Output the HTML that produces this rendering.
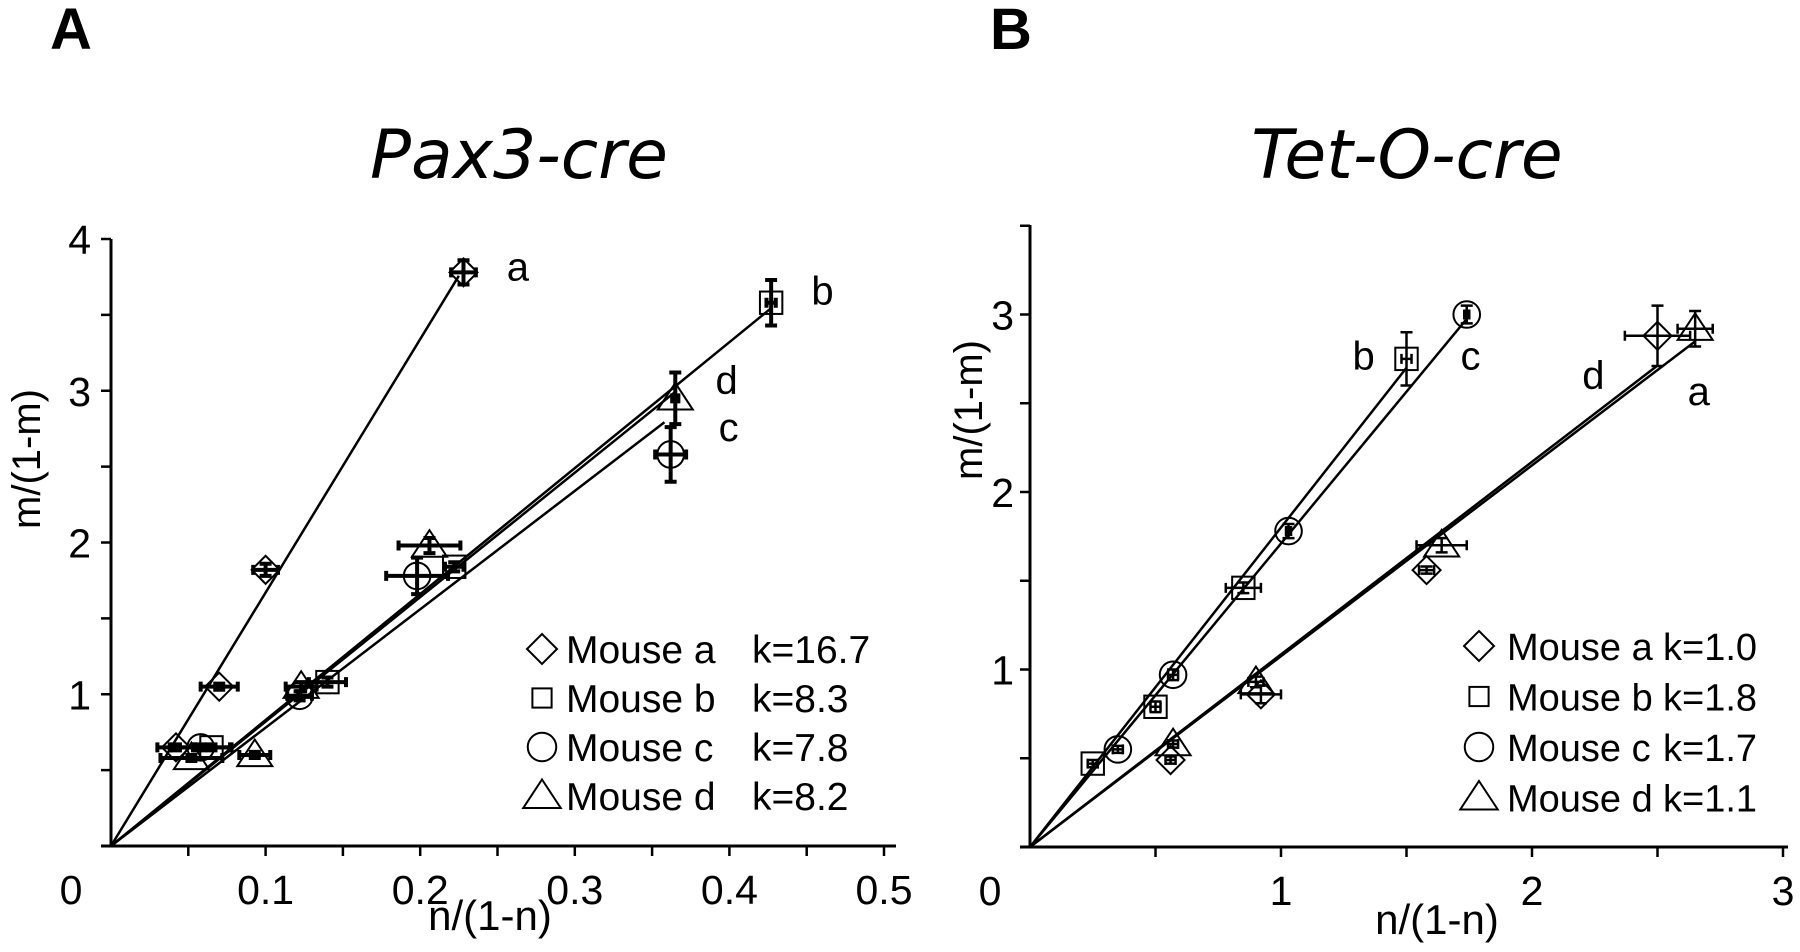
<!DOCTYPE html>
<html><head><meta charset="utf-8"><style>
html,body{margin:0;padding:0;background:#fff;}
svg{display:block;font-family:"Liberation Sans",sans-serif;}
</style></head><body>
<svg id="fig" width="1800" height="952" viewBox="0 0 1800 952">
<text x="50" y="49" font-size="58" font-weight="bold">A</text>
<text x="990" y="49" font-size="58" font-weight="bold">B</text>
<text x="519" y="178" font-size="68" font-style="italic" text-anchor="middle" font-family="DejaVu Sans, sans-serif">Pax3-cre</text>
<text x="1407" y="178" font-size="68" font-style="italic" text-anchor="middle" font-family="DejaVu Sans, sans-serif">Tet-O-cre</text>
<g id="pa"></g><g id="pb"></g>
</svg>
<script>
// Panel A data
const aSeries = ['a','b','c','d'];
const aK = [16.7, 8.3, 7.8, 8.2];
const aLineEnd = [0.225, 0.427, 0.358, 0.365];
const aX_a = [0.042, 0.07, 0.1, 0.228];
const aY_a = [0.65, 1.05, 1.82, 3.78];
const aX_b = [0.065, 0.14, 0.222, 0.427];
const aY_b = [0.65, 1.08, 1.84, 3.58];
const aX_c = [0.058, 0.122, 0.198, 0.362];
const aY_c = [0.65, 0.99, 1.78, 2.58];
const aX_d = [0.052, 0.093, 0.123, 0.206, 0.365];
const aY_d = [0.58, 0.6, 1.05, 1.98, 2.95];
const aXerr_a = [0.012, 0.012, 0.008, 0.008];
const aYerr_a = [0.02, 0.02, 0.04, 0.08];
const aXerr_b = [0.012, 0.012, 0.006, 0.003];
const aYerr_b = [0.02, 0.03, 0.03, 0.15];
const aXerr_c = [0.02, 0.008, 0.02, 0.01];
const aYerr_c = [0.02, 0.03, 0.12, 0.18];
const aXerr_d = [0.02, 0.01, 0.01, 0.02, 0.002];
const aYerr_d = [0.02, 0.02, 0.03, 0.05, 0.17];
const aLabelX = [0.256, 0.453, 0.393, 0.391];
const aLabelY = [3.82, 3.66, 2.76, 3.07];
const aLegendK = ['k=16.7','k=8.3','k=7.8','k=8.2'];
// Panel B data
const bSeries = ['a','b','c','d'];
const bSlope = [1.075, 1.8, 1.71, 1.085];
const bLineEnd = [2.65, 1.5, 1.74, 2.5];
const bX_a = [0.56, 0.92, 1.58, 2.5];
const bY_a = [0.49, 0.86, 1.56, 2.88];
const bX_b = [0.25, 0.5, 0.85, 1.5];
const bY_b = [0.47, 0.79, 1.46, 2.75];
const bX_c = [0.35, 0.57, 1.03, 1.74];
const bY_c = [0.55, 0.97, 1.78, 3.0];
const bX_d = [0.57, 0.9, 1.64, 2.65];
const bY_d = [0.58, 0.93, 1.7, 2.92];
const bXerr_a = [0.02, 0.08, 0.03, 0.13];
const bYerr_a = [0.02, 0.05, 0.02, 0.17];
const bXerr_b = [0.02, 0.02, 0.07, 0.02];
const bYerr_b = [0.02, 0.03, 0.03, 0.15];
const bXerr_c = [0.02, 0.02, 0.01, 0.01];
const bYerr_c = [0.02, 0.03, 0.04, 0.05];
const bXerr_d = [0.02, 0.03, 0.1, 0.07];
const bYerr_d = [0.02, 0.03, 0.04, 0.1];
const bLabelX = [2.62, 1.285, 1.715, 2.2];
const bLabelY = [2.57, 2.77, 2.77, 2.66];
const bLegendK = ['k=1.0','k=1.8','k=1.7','k=1.1'];

const NS = 'http://www.w3.org/2000/svg';
function mk(parent, tag, attrs){const e=document.createElementNS(NS,tag);for(const k in attrs)e.setAttribute(k,attrs[k]);parent.appendChild(e);return e;}
const shapes=['diamond','square','circle','triangle'];
function marker(g,shape,cx,cy,s){
  let e;
  if(shape==='diamond') e=mk(g,'polygon',{points:`${cx},${cy-s} ${cx+s},${cy} ${cx},${cy+s} ${cx-s},${cy}`,fill:'none',stroke:'#000','stroke-width':2});
  else if(shape==='square') e=mk(g,'rect',{x:cx-s*0.8,y:cy-s*0.8,width:s*1.6,height:s*1.6,fill:'none',stroke:'#000','stroke-width':2});
  else if(shape==='circle') e=mk(g,'circle',{cx:cx,cy:cy,r:s*0.95,fill:'none',stroke:'#000','stroke-width':2});
  else e=mk(g,'polygon',{points:`${cx},${cy-s*1.1} ${cx+s*1.25},${cy+s*0.8} ${cx-s*1.25},${cy+s*0.8}`,fill:'none',stroke:'#000','stroke-width':2});
  return e;
}
function panel(cfg){
  const g=document.getElementById(cfg.id);
  const X=v=>cfg.x0+v*cfg.xs, Y=v=>cfg.y0-v*cfg.ys;
  const ya=mk(g,'line',{x1:cfg.x0,y1:cfg.y0,x2:cfg.x0,y2:cfg.yTop,stroke:'#000','stroke-width':3});
  
  const xa=mk(g,'line',{x1:cfg.x0-10,y1:cfg.y0,x2:cfg.xRight,y2:cfg.y0,stroke:'#000','stroke-width':3});
  
  cfg.yTicks.forEach(v=>{mk(g,'line',{x1:cfg.x0-10,y1:Y(v),x2:cfg.x0,y2:Y(v),stroke:'#000','stroke-width':2.5});});
  cfg.xTicks.forEach(v=>{mk(g,'line',{x1:X(v),y1:cfg.y0,x2:X(v),y2:cfg.y0+10,stroke:'#000','stroke-width':2.5});});
  cfg.yLabels.forEach(v=>{const t=mk(g,'text',{x:cfg.x0-cfg.ylOff,y:Y(v)+15,'font-size':41,'text-anchor':'end'});t.textContent=v;
    });
  const z=mk(g,'text',{x:cfg.x0-40,y:cfg.y0+58,'font-size':41,'text-anchor':'middle'});z.textContent='0';
  
  cfg.xLabels.forEach(v=>{const t=mk(g,'text',{x:X(v),y:cfg.y0+58,'font-size':41,'text-anchor':'middle'});t.textContent=v;
    });
  const xt=mk(g,'text',{x:cfg.xtX,y:cfg.xtY,'font-size':42,'text-anchor':'middle'});xt.textContent='n/(1-n)';
  
  const yt=mk(g,'text',{x:0,y:0,'font-size':40,'text-anchor':'middle',transform:`translate(${cfg.ytX},${cfg.ytY}) rotate(-90)`});yt.textContent='m/(1-m)';
  
  cfg.slopes.forEach((k,i)=>{const l=mk(g,'line',{x1:X(0),y1:Y(0),x2:X(cfg.ends[i]),y2:Y(k*cfg.ends[i]),stroke:'#000','stroke-width':2.5});
    });
  cfg.series.forEach((s,i)=>{
    const xs=cfg.xs_[i], ys=cfg.ys_[i], xe=cfg.xe[i], ye=cfg.ye[i];
    xs.forEach((xv,j)=>{
      const cx=X(xv), cy=Y(ys[j]);
      const m=marker(g,shapes[i],cx,cy,cfg.ms);
      
      const hx=xe[j]*cfg.xs, hy=ye[j]*cfg.ys;
      const eb=mk(g,'path',{d:`M${cx-hx},${cy}H${cx+hx}M${cx},${cy-hy}V${cy+hy}M${cx-hx},${cy-5}V${cy+5}M${cx+hx},${cy-5}V${cy+5}M${cx-6},${cy-hy}H${cx+6}M${cx-6},${cy+hy}H${cx+6}`,stroke:'#000','stroke-width':cfg.ebw,fill:'none'});
      
    });
    const lb=mk(g,'text',{x:X(cfg.lx[i]),y:Y(cfg.ly[i])+14,'font-size':40});lb.textContent=s;
    
    const ly=cfg.legY+i*cfg.legDy;
    const lm=marker(g,shapes[i],cfg.legX,ly,shapes[i]==='square'?12:15);
    
    const lt=mk(g,'text',{x:cfg.legTX,y:ly+14,'font-size':cfg.legFs});lt.textContent='Mouse '+s;
    
    const lk=mk(g,'text',{x:cfg.legKX,y:ly+14,'font-size':cfg.legFs});lk.textContent=cfg.legK[i];
    
  });
}
panel({id:'pa',x0:111,y0:846,xs:1546,ys:151.75,yTop:239,xRight:896,ylOff:20,
  yTicks:[0.5,1,1.5,2,2.5,3,3.5,4],xTicks:[0.05,0.1,0.15,0.2,0.25,0.3,0.35,0.4,0.45,0.5],
  yLabels:[1,2,3,4],xLabels:[0.1,0.2,0.3,0.4,0.5],xtX:490,xtY:930,ytX:40,ytY:459,
  series:aSeries,slopes:aK,ends:aLineEnd,xs_:[aX_a,aX_b,aX_c,aX_d],ys_:[aY_a,aY_b,aY_c,aY_d],
  xe:[aXerr_a,aXerr_b,aXerr_c,aXerr_d],ye:[aYerr_a,aYerr_b,aYerr_c,aYerr_d],ms:14,ebw:4,
  lx:aLabelX,ly:aLabelY,legX:542,legY:649,legDy:49,legTX:566,legKX:752,legFs:39,legK:aLegendK});
panel({id:'pb',x0:1030,y0:847,xs:251,ys:177.5,yTop:225,xRight:1788,ylOff:16,
  yTicks:[0.5,1,1.5,2,2.5,3,3.5],xTicks:[0.5,1,1.5,2,2.5,3],
  yLabels:[1,2,3],xLabels:[1,2,3],xtX:1437,xtY:934,ytX:982,ytY:410,
  series:bSeries,slopes:bSlope,ends:bLineEnd,xs_:[bX_a,bX_b,bX_c,bX_d],ys_:[bY_a,bY_b,bY_c,bY_d],
  xe:[bXerr_a,bXerr_b,bXerr_c,bXerr_d],ye:[bYerr_a,bYerr_b,bYerr_c,bYerr_d],ms:14,ebw:2.5,
  lx:bLabelX,ly:bLabelY,legX:1479,legY:646,legDy:50.5,legTX:1507,legKX:1663,legFs:38,legK:bLegendK});
</script>
</body></html>
